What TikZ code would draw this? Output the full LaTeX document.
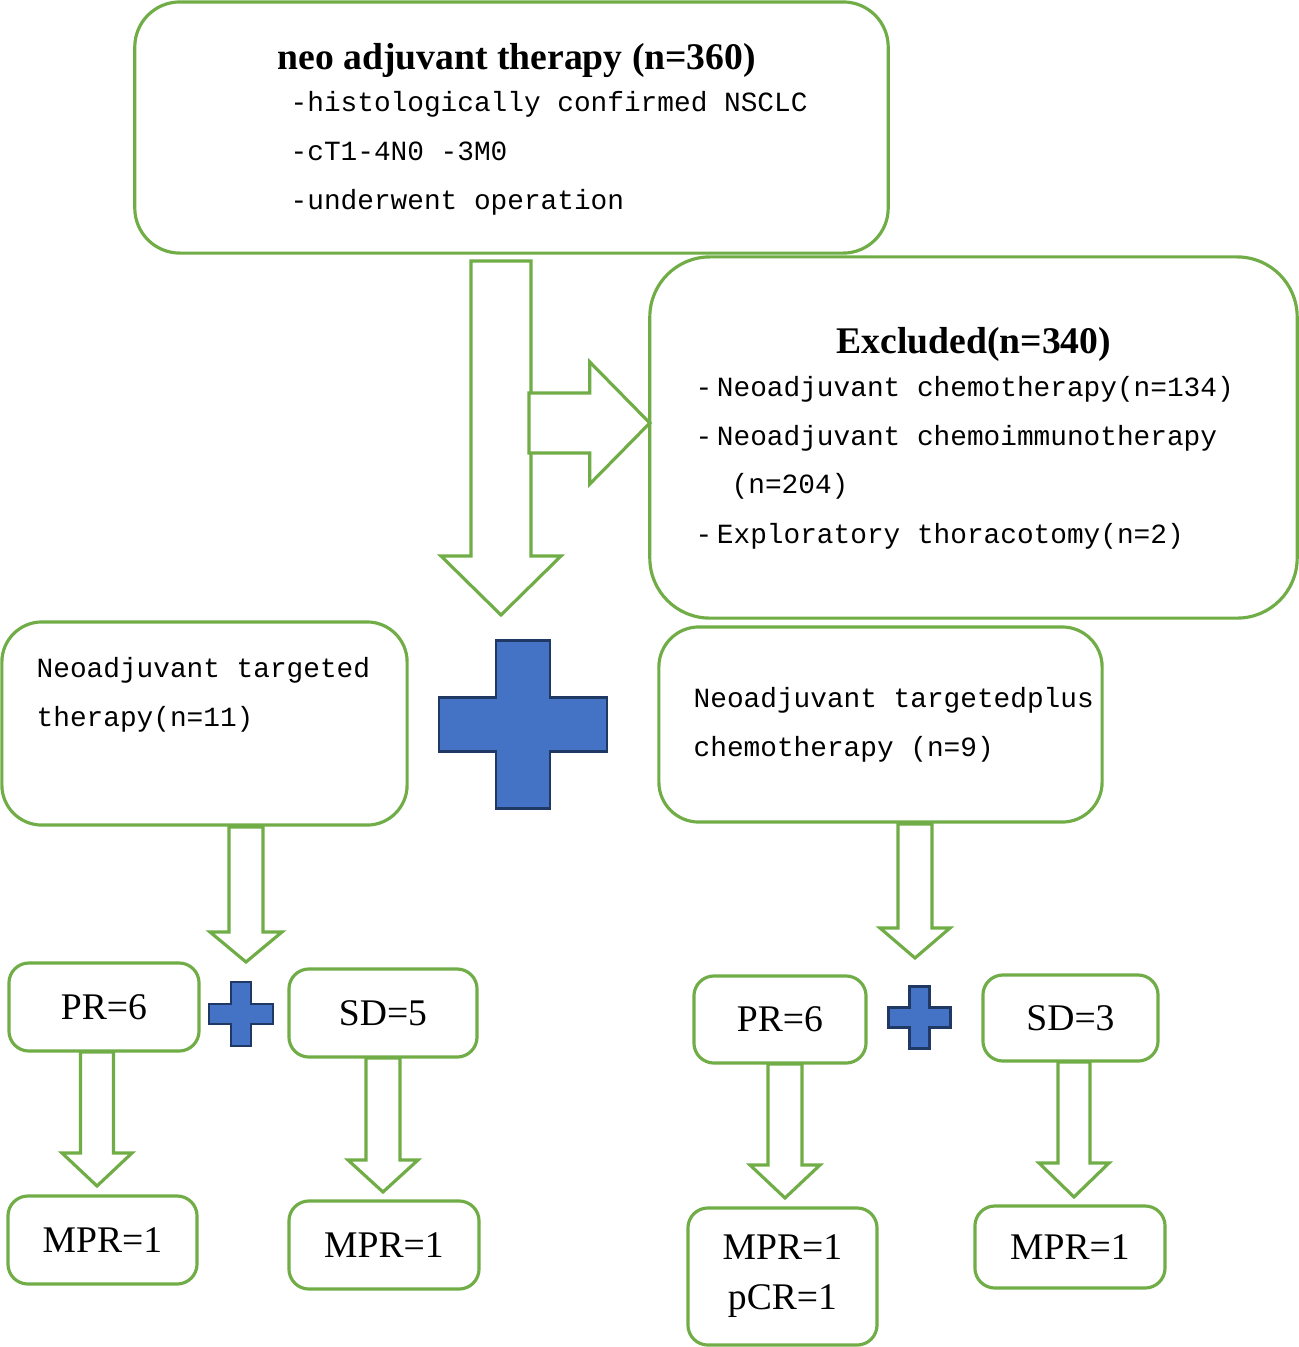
\documentclass[tikz,border=0pt]{standalone}
\usepackage{fontspec}
\setmainfont{Liberation Serif}
\newfontfamily\monotext{Liberation Mono}
\usetikzlibrary{calc}

\definecolor{boxgreen}{RGB}{112,173,71}
\definecolor{plusblue}{RGB}{68,114,196}
\definecolor{plusedge}{RGB}{31,56,100}

% hollow block arrows: tail, tip, shaft half width, head half width, head length
\newcommand{\blockdown}[5]{%
  \draw[flow] ($(#1)+(-#3,0)$) -- ($(#2)+(-#3,-#5)$) -- ($(#2)+(-#4,-#5)$) -- (#2)
    -- ($(#2)+(#4,-#5)$) -- ($(#2)+(#3,-#5)$) -- ($(#1)+(#3,0)$) -- cycle;}
\newcommand{\blockright}[5]{%
  \draw[flow] ($(#1)+(0,-#3)$) -- ($(#2)+(-#5,-#3)$) -- ($(#2)+(-#5,-#4)$) -- (#2)
    -- ($(#2)+(-#5,#4)$) -- ($(#2)+(-#5,#3)$) -- ($(#1)+(0,#3)$) -- cycle;}

\tikzset{
  pics/plussign/.style={code={
    \draw[plusdraw] (-0.32,-1) -- (0.32,-1) -- (0.32,-0.32) -- (1,-0.32) -- (1,0.32)
      -- (0.32,0.32) -- (0.32,1) -- (-0.32,1) -- (-0.32,0.32) -- (-1,0.32)
      -- (-1,-0.32) -- (-0.32,-0.32) -- cycle;}}}

\begin{document}
\begin{tikzpicture}[
  x=0.01cm, y=-0.01cm,
  box/.style={draw=boxgreen,line width=0.9pt,fill=white,inner sep=0,outer sep=0},
  big box/.style={box,rounded corners=0.45cm},
  mid box/.style={box,rounded corners=0.4cm},
  small box/.style={box,rounded corners=0.2cm,align=center,
    font=\fontsize{10.7}{14.2}\selectfont},
  head text/.style={anchor=base west,inner sep=0,font=\bfseries\fontsize{10.7}{13}\selectfont},
  list text/.style={anchor=base west,inner sep=0,font=\monotext\fontsize{7.9}{10}\selectfont},
  flow/.style={draw=boxgreen,line width=0.9pt,fill=white,line join=miter},
  plusdraw/.style={fill=plusblue,draw=plusedge,line width=0.7pt}]

  \useasboundingbox (0,0) rectangle (1299,1347);

  % boxes
  \node[big box,minimum width=7.53cm,minimum height=2.51cm] (cohort) at (511.5,127.5) {};
  \node[big box,rounded corners=0.6cm,minimum width=6.47cm,minimum height=3.61cm] (excluded) at (973.5,437.5) {};
  \node[mid box,minimum width=4.05cm,minimum height=2.03cm] (target) at (204.5,723.5) {};
  \node[mid box,minimum width=4.43cm,minimum height=1.95cm] (combo) at (880.5,724.5) {};

  \node[small box,minimum width=1.90cm,minimum height=0.88cm] (pr1) at (104,1007) {PR=6};
  \node[small box,minimum width=1.88cm,minimum height=0.88cm] (sd1) at (383,1013) {SD=5};
  \node[small box,minimum width=1.89cm,minimum height=0.88cm] (mpr1) at (102.5,1240) {MPR=1};
  \node[small box,minimum width=1.90cm,minimum height=0.88cm] (mpr2) at (384,1245) {MPR=1};
  \node[small box,minimum width=1.72cm,minimum height=0.87cm] (pr2) at (780,1019.5) {PR=6};
  \node[small box,minimum width=1.75cm,minimum height=0.86cm] (sd2) at (1070.5,1018) {SD=3};
  \node[small box,minimum width=1.89cm,minimum height=1.37cm] (mpr3) at (782.5,1276.5) {MPR=1\\pCR=1};
  \node[small box,minimum width=1.90cm,minimum height=0.82cm] (mpr4) at (1070,1247) {MPR=1};

  % texts
  \node[head text] (cohort-t) at (277,69) {neo adjuvant therapy (n=360)};
  \node[list text] (cohort-a) at (290,111) {-histologically confirmed NSCLC};
  \node[list text] (cohort-b) at (290,160) {-cT1-4N0 -3M0};
  \node[list text] (cohort-c) at (290,209) {-underwent operation};

  \node[head text] (excluded-t) at (836,353) {Excluded(n=340)};
  \node[list text] (excluded-a) at (695,396) {-\,Neoadjuvant chemotherapy(n=134)};
  \node[list text] (excluded-b) at (695,445) {-\,Neoadjuvant chemoimmunotherapy};
  \node[list text] (excluded-c) at (731,493) {(n=204)};
  \node[list text] (excluded-d) at (695,543) {-\,Exploratory thoracotomy(n=2)};

  \node[list text] (target-a) at (36,677) {Neoadjuvant targeted};
  \node[list text] (target-b) at (36,726) {therapy(n=11)};
  \node[list text] (combo-a) at (693,707) {Neoadjuvant targetedplus};
  \node[list text] (combo-b) at (693,756) {chemotherapy (n=9)};

  % arrow ends
  \coordinate (cohort-out) at (501,261);
  \coordinate (cohort-in) at (501,615);
  \coordinate (excl-out) at (529,423);
  \coordinate (excl-in) at (excluded.west |- excl-out);
  \coordinate (target-out) at (246,827);
  \coordinate (target-in) at (246,962);
  \coordinate (combo-out) at (915,824);
  \coordinate (combo-in) at (915,958);
  \coordinate (pr1-out) at (97,1052);
  \coordinate (pr1-in) at (97,1186);
  \coordinate (sd1-out) at (383,1058);
  \coordinate (sd1-in) at (383,1192);
  \coordinate (pr2-out) at (785,1064);
  \coordinate (pr2-in) at (785,1198);
  \coordinate (sd2-out) at (1074,1062);
  \coordinate (sd2-in) at (1074,1197);

  % block arrows
  \blockdown{cohort-out}{cohort-in}{30}{60}{59}
  \blockright{excl-out}{excl-in}{30}{61}{60}
  \blockdown{target-out}{target-in}{17}{36}{30}
  \blockdown{combo-out}{combo-in}{17}{35}{30}
  \blockdown{pr1-out}{pr1-in}{16.5}{35}{33}
  \blockdown{sd1-out}{sd1-in}{17}{35}{32}
  \blockdown{pr2-out}{pr2-in}{17}{35}{33}
  \blockdown{sd2-out}{sd2-in}{16}{35}{34}

  % plus signs
  \pic[scale=84] at (523,724.5) {plussign};
  \pic[scale=32] at (241,1014) {plussign};
  \pic[scale=31] at (919.5,1017.5) {plussign};
\end{tikzpicture}
\end{document}
